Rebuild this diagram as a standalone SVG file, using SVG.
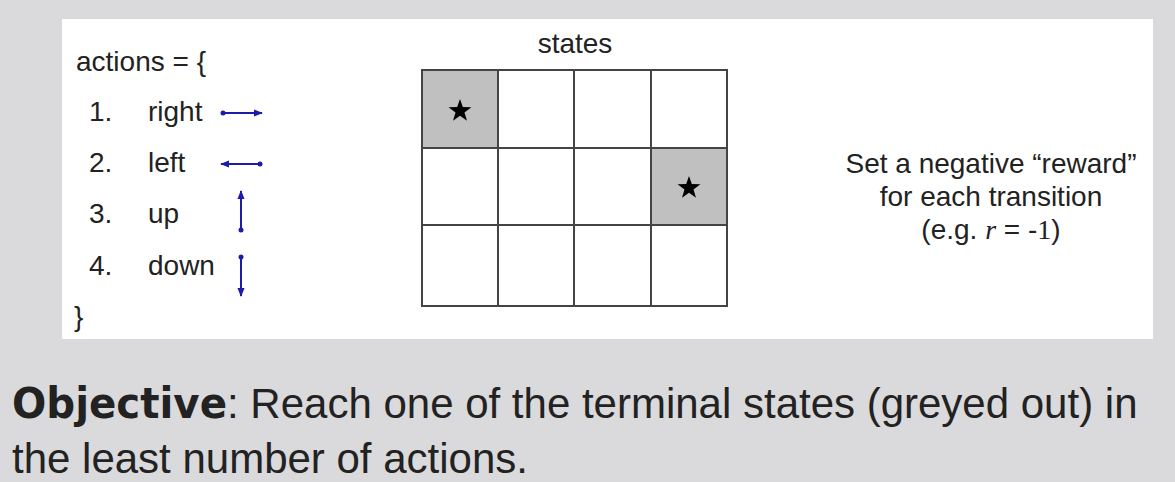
<svg xmlns="http://www.w3.org/2000/svg" width="1175" height="482" viewBox="0 0 1175 482">
<defs>
<style>
.t{font-family:"Liberation Sans",Arial,sans-serif;fill:#222;}
.cell{fill:#fff;stroke:#444;stroke-width:2;}
.term{fill:#c0c0c0;stroke:#444;stroke-width:2;}
.star{fill:#000;}
.act{stroke:#1c1ca8;stroke-width:2;fill:none;}
.dot{fill:#1c1ca8;}
</style>
<marker id="ah" viewBox="0 0 10 10" refX="9" refY="5" markerWidth="9" markerHeight="9" markerUnits="userSpaceOnUse" orient="auto">
<path d="M0,1 L10,5 L0,9 Z" fill="#1c1ca8"/>
</marker>
<path id="st" d="M0,-12 L2.8,-3.9 L11.4,-3.7 L4.5,1.5 L7,9.7 L0,4.8 L-7,9.7 L-4.5,1.5 L-11.4,-3.7 L-2.8,-3.9 Z"/>
</defs>
<rect x="0" y="0" width="1175" height="482" fill="#dad9db"/>
<rect x="62" y="19" width="1091" height="320" fill="#fff"/>

<g id="actions">
<text class="t" x="76" y="71" font-size="28">actions = {</text>
<text class="t" x="89" y="121" font-size="28">1.</text>
<text class="t" x="148" y="121" font-size="28">right</text>
<text class="t" x="89" y="172" font-size="28">2.</text>
<text class="t" x="148" y="172" font-size="28">left</text>
<text class="t" x="89" y="223" font-size="28">3.</text>
<text class="t" x="148" y="223" font-size="28">up</text>
<text class="t" x="89" y="275" font-size="28">4.</text>
<text class="t" x="148" y="275" font-size="28">down</text>
<text class="t" x="74" y="326" font-size="28">}</text>
</g>

<g id="connectors">
<line class="act" x1="223" y1="113" x2="262" y2="113" marker-end="url(#ah)"/>
<circle class="dot" cx="223" cy="113" r="2.5"/>
<line class="act" x1="260" y1="164" x2="221" y2="164" marker-end="url(#ah)"/>
<circle class="dot" cx="260" cy="164" r="2.5"/>
<line class="act" x1="241" y1="230" x2="241" y2="191" marker-end="url(#ah)"/>
<circle class="dot" cx="241" cy="230" r="2.5"/>
<line class="act" x1="241" y1="257" x2="241" y2="296" marker-end="url(#ah)"/>
<circle class="dot" cx="241" cy="257" r="2.5"/>
</g>

<g id="states">
<text class="t" x="575" y="53" font-size="28" text-anchor="middle">states</text>
<rect class="term" x="422" y="70" width="76" height="78"/>
<rect class="cell" x="498" y="70" width="76" height="78"/>
<rect class="cell" x="574" y="70" width="77" height="78"/>
<rect class="cell" x="651" y="70" width="76" height="78"/>
<rect class="cell" x="422" y="148" width="76" height="77"/>
<rect class="cell" x="498" y="148" width="76" height="77"/>
<rect class="cell" x="574" y="148" width="77" height="77"/>
<rect class="term" x="651" y="148" width="76" height="77"/>
<rect class="cell" x="422" y="225" width="76" height="81"/>
<rect class="cell" x="498" y="225" width="76" height="81"/>
<rect class="cell" x="574" y="225" width="77" height="81"/>
<rect class="cell" x="651" y="225" width="76" height="81"/>
<use href="#st" class="star" x="460" y="111"/>
<use href="#st" class="star" x="689" y="188"/>
</g>

<g id="reward">
<text class="t" x="991" y="173" font-size="28" text-anchor="middle">Set a negative “reward”</text>
<text class="t" x="991" y="206" font-size="28" text-anchor="middle">for each transition</text>
<text class="t" x="991" y="239" font-size="28" text-anchor="middle">(e.g. <tspan font-family="'Liberation Serif',serif" font-style="italic">r</tspan> = -<tspan font-family="'Liberation Serif',serif">1</tspan>)</text>
</g>

<g id="objective">
<text class="t" x="12" y="418" font-size="42" fill="#111"><tspan font-weight="bold" font-family="'DejaVu Sans','Liberation Sans',sans-serif" textLength="215" lengthAdjust="spacingAndGlyphs">Objective</tspan>: Reach one of the terminal states (greyed out) in</text>
<text class="t" x="12" y="473" font-size="42" fill="#111">the least number of actions.</text>
</g>
</svg>
